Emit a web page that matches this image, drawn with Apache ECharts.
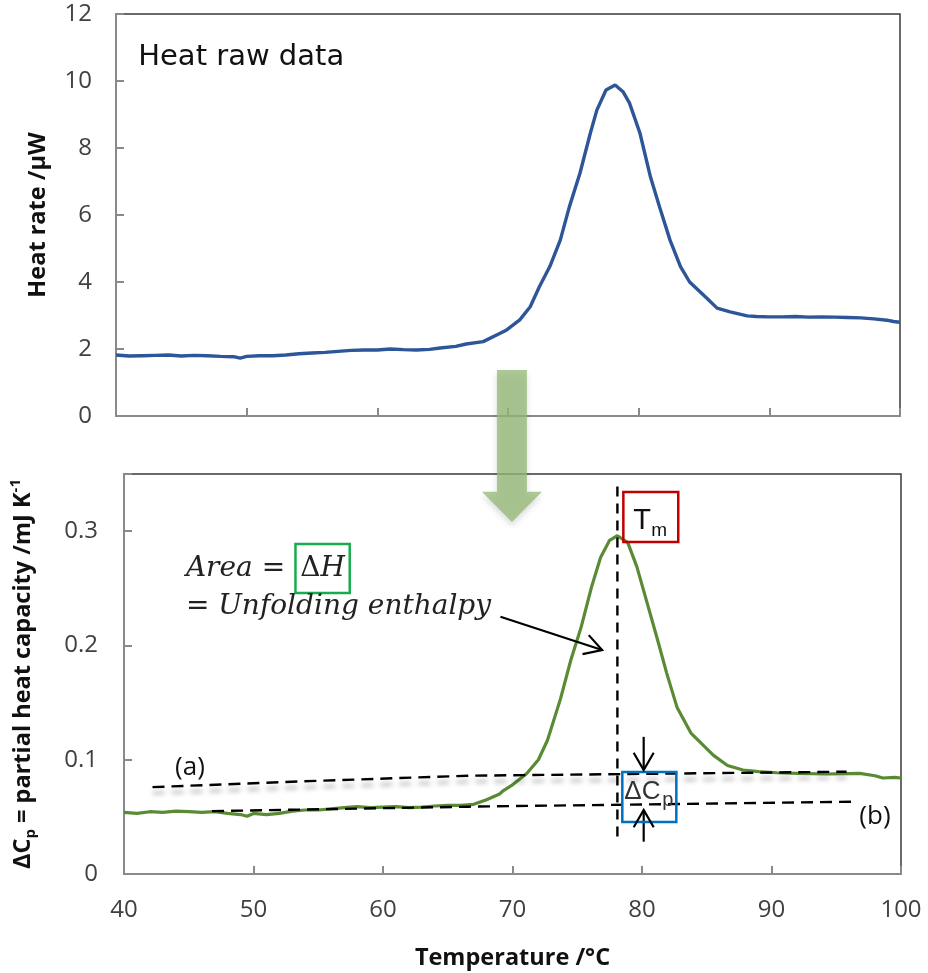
<!DOCTYPE html>
<html>
<head>
<meta charset="utf-8">
<script src="https://cdn.jsdelivr.net/npm/echarts@6/dist/echarts.min.js"></script>
<style>
html, body { margin: 0; padding: 0; background: #fff; }
#main { width: 928px; height: 973px; }
</style>
</head>
<body>
<div id="main"></div>
<script>
// temperature axis shared by both panels
var tempTicks = [40, 50, 60, 70, 80, 90, 100];
var heatTicks = [0, 2, 4, 6, 8, 10, 12];
var cpTicks = [0, 0.1, 0.2, 0.3];

// top panel: raw heat rate (uW)
var rawTemp = [40, 41, 42, 43, 44, 45, 46, 47, 48, 49, 49.5, 50, 51, 52, 53, 54, 55, 56, 57, 58, 59, 60, 61, 62, 63, 64,
    64.8, 66, 66.8, 68.1, 69.4, 69.9, 70.9, 71.7, 72.4, 73.2, 74, 74.7, 75.5, 76.3, 76.8, 77.5, 78.2, 78.8, 79.3, 80.1,
    80.9, 81.6, 82.4, 83.2, 83.9, 85.2, 86, 87, 88.3, 89, 90, 91, 92, 93, 94, 95, 96, 97, 98, 99, 99.5, 100];
var rawHeat = [1.82, 1.79, 1.8, 1.81, 1.82, 1.79, 1.81, 1.8, 1.78, 1.77, 1.73, 1.78, 1.8, 1.8, 1.82, 1.86, 1.88, 1.9, 1.93, 1.96, 1.97, 1.97, 2.0, 1.98, 1.97, 1.99,
    2.03, 2.08, 2.15, 2.22, 2.47, 2.57, 2.87, 3.26, 3.86, 4.46, 5.25, 6.25, 7.24, 8.44, 9.13, 9.73, 9.88, 9.68, 9.34, 8.44,
    7.14, 6.24, 5.25, 4.46, 4.0, 3.52, 3.22, 3.11, 2.99, 2.97, 2.96, 2.96, 2.97, 2.95, 2.96, 2.95, 2.94, 2.93, 2.9, 2.86, 2.82, 2.8];

// bottom panel: partial heat capacity (mJ/K)
var cpTemp = [40, 41, 42, 43, 44, 45, 46, 47, 48, 49, 49.5, 50, 51, 52, 53, 54, 55, 56, 57, 58, 59, 60, 61, 62, 63, 64, 65, 66, 67, 68, 69,
    69.3, 70, 71.1, 72, 72.7, 73.7, 74.5, 75.3, 76.1, 76.8, 77.5, 78.1, 78.9, 79.6, 80.4, 81.2, 81.9, 82.7, 83.8, 85.5, 86.6, 87.8,
    89, 90.4, 92, 94.3, 96.8, 98, 98.6, 99.5, 100];
var cpValue = [0.054, 0.053, 0.0545, 0.054, 0.055, 0.0545, 0.054, 0.0545, 0.053, 0.052, 0.0505, 0.053, 0.052, 0.053, 0.055, 0.056, 0.056, 0.057, 0.058, 0.059, 0.058, 0.0586, 0.059, 0.058, 0.0586, 0.0595, 0.06, 0.06, 0.061, 0.065, 0.07,
    0.073, 0.078, 0.088, 0.1, 0.117, 0.153, 0.187, 0.216, 0.251, 0.277, 0.292, 0.296, 0.29, 0.269, 0.237, 0.205, 0.176, 0.146, 0.123, 0.104, 0.095, 0.091,
    0.0895, 0.0886, 0.088, 0.0875, 0.088, 0.086, 0.084, 0.0845, 0.084];

// baselines (a) and (b), melting temperature
var baseATemp = [42.2, 53.6, 66.6, 95.8];
var baseAValue = [0.076, 0.081, 0.086, 0.0895];
var baseBTemp = [46.8, 66.6, 96.6];
var baseBValue = [0.055, 0.0589, 0.0633];
var tm = 78.1;

function pairs(xs, ys) {
    return xs.map(function (x, i) { return [x, ys[i]]; });
}

var tickFont = { fontFamily: 'Open Sans', fontSize: 24, color: '#404040' };
var nameFont = { fontFamily: 'Open Sans', fontSize: 23.5, fontWeight: 'bold', color: '#111' };
var grayLine = { color: '#8a8a8a', width: 2 };

var myChart = echarts.init(document.getElementById('main'));
option = {
    animation: false,
    grid: [
        { left: 116, top: 14, width: 784, height: 402, show: true, borderColor: '#3a3a3a', borderWidth: 1.5 },
        { left: 123, top: 474, width: 778, height: 400, show: true, borderColor: '#3a3a3a', borderWidth: 1.5 }
    ],
    xAxis: [{
        gridIndex: 0,
        type: 'value',
        min: tempTicks[0], max: tempTicks[tempTicks.length - 1], interval: tempTicks[1] - tempTicks[0],
        axisLine: { lineStyle: grayLine },
        axisTick: { inside: true, length: 8, lineStyle: grayLine },
        axisLabel: { show: false },
        splitLine: { show: false }
    }, {
        gridIndex: 1,
        type: 'value',
        min: tempTicks[0], max: tempTicks[tempTicks.length - 1], interval: tempTicks[1] - tempTicks[0],
        axisLine: { lineStyle: grayLine },
        axisTick: { inside: true, length: 8, lineStyle: grayLine },
        axisLabel: Object.assign({ margin: 24 }, tickFont),
        splitLine: { show: false },
        name: 'Temperature /°C',
        nameLocation: 'middle',
        nameGap: 72,
        nameTextStyle: nameFont
    }],
    yAxis: [{
        gridIndex: 0,
        type: 'value',
        min: heatTicks[0], max: heatTicks[heatTicks.length - 1], interval: heatTicks[1] - heatTicks[0],
        axisLine: { show: true, lineStyle: grayLine },
        axisTick: { show: true, inside: true, length: 8, lineStyle: grayLine },
        axisLabel: Object.assign({ margin: 24 }, tickFont),
        splitLine: { show: false },
        name: 'Heat rate /μW',
        nameLocation: 'middle',
        nameGap: 66,
        nameTextStyle: nameFont
    }, {
        gridIndex: 1,
        type: 'value',
        min: cpTicks[0], max: 0.35, interval: cpTicks[1] - cpTicks[0],
        axisLine: { show: true, lineStyle: grayLine },
        axisTick: { show: true, inside: true, length: 8, lineStyle: grayLine },
        axisLabel: Object.assign({
            margin: 26,
            formatter: function (v) {
                var r = +v.toFixed(2);
                return cpTicks.indexOf(r) >= 0 ? String(+r.toFixed(1)) : '';
            }
        }, tickFont),
        splitLine: { show: false },
        name: 'ΔC{sub|p} = partial heat capacity /mJ K{sup|-1}',
        nameLocation: 'middle',
        nameGap: 86,
        nameTextStyle: Object.assign({
            lineHeight: 30,
            rich: {
                sub: { fontFamily: 'Open Sans', fontSize: 15, fontWeight: 'bold', color: '#111', lineHeight: 14, verticalAlign: 'bottom' },
                sup: { fontFamily: 'Open Sans', fontSize: 15, fontWeight: 'bold', color: '#111', lineHeight: 14, verticalAlign: 'top' }
            }
        }, nameFont)
    }],
    series: [{
        name: 'Heat raw data',
        type: 'line',
        xAxisIndex: 0, yAxisIndex: 0,
        showSymbol: false,
        data: pairs(rawTemp, rawHeat),
        lineStyle: { color: '#2c5697', width: 3.4 },
        z: 3
    }, {
        name: 'Partial heat capacity',
        type: 'line',
        xAxisIndex: 1, yAxisIndex: 1,
        showSymbol: false,
        data: pairs(cpTemp, cpValue),
        lineStyle: { color: '#5a8b34', width: 3.2 },
        z: 3
    }, {
        name: 'baseline a',
        type: 'line',
        xAxisIndex: 1, yAxisIndex: 1,
        showSymbol: false,
        data: pairs(baseATemp, baseAValue),
        lineStyle: { color: '#000', width: 2.4, type: [12, 7], shadowColor: 'rgba(0,0,0,0.35)', shadowBlur: 5, shadowOffsetY: 6 },
        z: 4
    }, {
        name: 'baseline b',
        type: 'line',
        xAxisIndex: 1, yAxisIndex: 1,
        showSymbol: false,
        data: pairs(baseBTemp, baseBValue),
        lineStyle: { color: '#000', width: 2.4, type: [12, 7] },
        z: 4
    }, {
        name: 'Tm',
        type: 'line',
        xAxisIndex: 1, yAxisIndex: 1,
        showSymbol: false,
        data: [[tm, 0.339], [tm, 0.028]],
        lineStyle: { color: '#000', width: 2.4, type: [10, 7] },
        z: 4
    }, {
        name: 'enthalpy arrow',
        type: 'line',
        xAxisIndex: 1, yAxisIndex: 1,
        showSymbol: false,
        data: [[69.07, 0.2251], [76.92, 0.196]],
        lineStyle: { color: '#000', width: 2.2 },
        z: 5
    }, {
        name: 'dCp arrow down',
        type: 'line',
        xAxisIndex: 1, yAxisIndex: 1,
        showSymbol: false,
        data: [[80.13, 0.12], [80.13, 0.091]],
        lineStyle: { color: '#000', width: 2.2 },
        z: 5
    }, {
        name: 'dCp arrow up',
        type: 'line',
        xAxisIndex: 1, yAxisIndex: 1,
        showSymbol: false,
        data: [[80.13, 0.0283], [80.13, 0.056]],
        lineStyle: { color: '#000', width: 2.2 },
        z: 5
    }]
};
myChart.setOption(option);

// annotations, anchored in data space
function px(g, x, y) { return myChart.convertToPixel({ gridIndex: g }, [x, y]); }

function txt(p, text, font, color, align, rich) {
    var st = { text: text, font: font, fill: color || '#000', align: align || 'left', verticalAlign: 'middle',
        textAlign: align || 'left', textVerticalAlign: 'middle' };
    if (rich) st.rich = rich;
    return { type: 'text', x: p[0], y: p[1], z: 100, style: st };
}
function box(g, a, b, color, w) {
    var p1 = px(g, a[0], a[1]), p2 = px(g, b[0], b[1]);
    return { type: 'rect', z: 100, shape: { x: p1[0], y: p1[1], width: p2[0] - p1[0], height: p2[1] - p1[1] },
        style: { fill: 'none', stroke: color, lineWidth: w } };
}
function head(g, from, to) {
    var a = px(g, from[0], from[1]), b = px(g, to[0], to[1]);
    var ang = Math.atan2(a[1] - b[1], a[0] - b[0]), L = 20, s = Math.PI / 6;
    return { type: 'polyline', z: 100, shape: { points: [
        [b[0] + L * Math.cos(ang + s), b[1] + L * Math.sin(ang + s)], b,
        [b[0] + L * Math.cos(ang - s), b[1] + L * Math.sin(ang - s)]] },
        style: { fill: 'none', stroke: '#000', lineWidth: 2.2 } };
}

var els = [];
// big green arrow from the top panel into the bottom one
var aTop = px(0, 70.3, 1.37), aHead = px(1, 70.3, 0.3345), aTip = px(1, 70.3, 0.308);
var cx = aTop[0];
els.push({ type: 'polygon', z: 90, shape: { points: [
    [cx - 15, aTop[1]], [cx + 15, aTop[1]], [cx + 15, aHead[1]], [cx + 30, aHead[1]],
    [cx, aTip[1]], [cx - 30, aHead[1]], [cx - 15, aHead[1]]] },
    style: { fill: 'rgba(150,186,120,0.78)', shadowColor: 'rgba(0,0,0,0.18)', shadowBlur: 6, shadowOffsetY: 4 } });

els.push(txt(px(0, 41.7, 10.69), 'Heat raw data', '29px "DejaVu Sans"', '#111'));

var serif = 'italic 28px "DejaVu Serif"';
var upright = { u: { font: '28px "DejaVu Serif"', fill: '#222' } };
els.push(txt(px(1, 44.78, 0.2668), 'Area =', serif, '#222'));
els.push(box(1, [53.24, 0.2887], [57.43, 0.2458], '#1aab4f', 2.5));
els.push(txt(px(1, 55.33, 0.2668), '{u|Δ}H', serif, '#222', 'center', upright));
els.push(txt(px(1, 44.78, 0.2336), '= Unfolding enthalpy', serif, '#222'));
els.push(head(1, [69.07, 0.2251], [76.92, 0.196]));

// Tm label
els.push(box(1, [78.56, 0.3342], [82.8, 0.2905], '#c00000', 2.5));
var tP = px(1, 78.56, 0.3342);
els.push(txt([tP[0] + 10, tP[1] + 29], 'T', '29px "Liberation Sans"', '#111'));
els.push(txt([tP[0] + 28, tP[1] + 39], 'm', '19px "Liberation Sans"', '#111'));

// delta Cp label
els.push(box(1, [78.48, 0.0892], [82.65, 0.0455], '#0070c0', 2.5));
var cP = px(1, 78.48, 0.0892);
els.push(txt([cP[0] + 2, cP[1] + 20], 'ΔC', '26px "Liberation Sans"', '#333'));
els.push(txt([cP[0] + 40, cP[1] + 28], 'p', '20px "Liberation Sans"', '#333'));
els.push(head(1, [80.13, 0.12], [80.13, 0.091]));
els.push(head(1, [80.13, 0.0283], [80.13, 0.056]));

els.push(txt(px(1, 45.09, 0.0927), '(a)', '26px "Open Sans"', '#111', 'center'));
els.push(txt(px(1, 97.99, 0.0499), '(b)', '26px "Open Sans"', '#111', 'center'));

myChart.setOption({ graphic: { elements: els } });
</script>
</body>
</html>
